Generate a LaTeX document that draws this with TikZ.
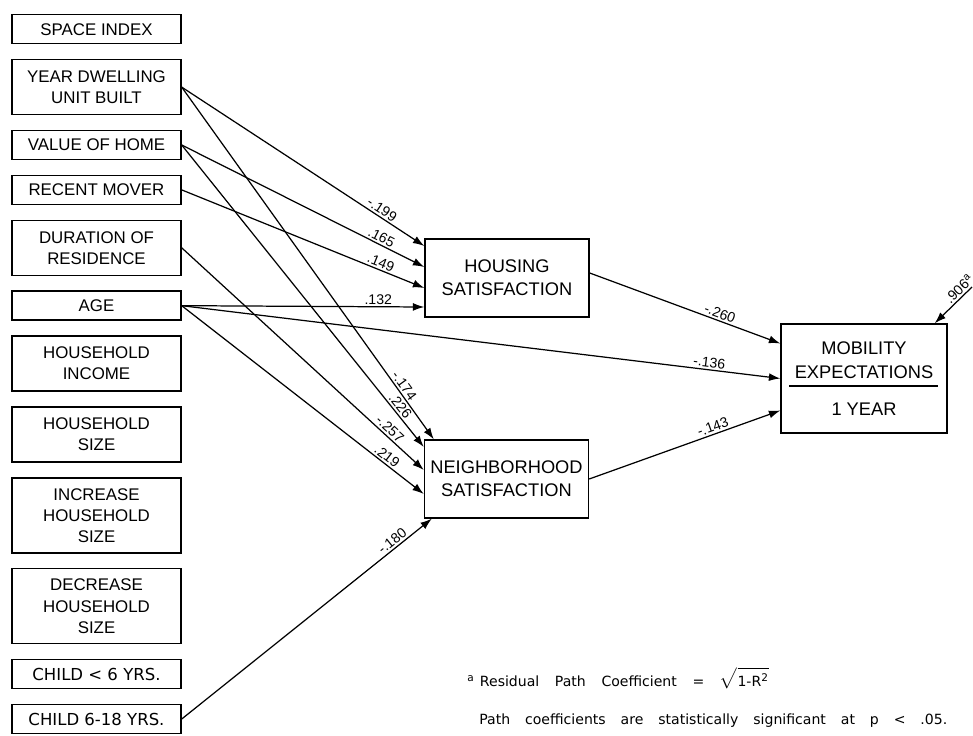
\documentclass[tikz,border=0pt]{standalone}
\usepackage{fontspec}
\setmainfont{Liberation Sans}
\newfontfamily\widefont{DejaVu Sans}
\usetikzlibrary{positioning, arrows.meta, calc}

\begin{document}
\begin{tikzpicture}[
  x=0.02cm, y=-0.02cm,
  var/.style={rectangle, draw, line width=0.8pt, minimum width=3.38cm,
              minimum height=0.58cm, align=center, inner sep=1pt,
              font=\fontsize{9.6}{12}\selectfont},
  sat/.style={rectangle, draw, line width=0.8pt, minimum width=3.28cm,
              minimum height=1.56cm, align=center,
              font=\fontsize{10.4}{13}\selectfont},
  arr/.style={-{Latex[length=6.5pt, width=4.5pt]}, line width=0.7pt},
  lbl/.style={font=\fontsize{8}{9}\selectfont, sloped, above, inner sep=1pt},
  note/.style={anchor=base west, inner sep=0pt, font=\widefont\fontsize{8}{10}\selectfont},
  node distance=0.29cm
]
  \useasboundingbox (0,0) rectangle (973,736);

  \node[var, anchor=north] (space) at (96.5,14) {SPACE INDEX};
  \node[var, minimum height=1.1cm, below=of space] (year) {YEAR DWELLING\\UNIT BUILT};
  \node[var, below=of year]  (value) {VALUE OF HOME};
  \node[var, below=of value] (mover) {RECENT MOVER};
  \node[var, minimum height=1.1cm, below=of mover]  (durat)  {DURATION OF\\RESIDENCE};
  \node[var, below=of durat] (age) {AGE};
  \node[var, minimum height=1.1cm, below=of age]    (income) {HOUSEHOLD\\INCOME};
  \node[var, minimum height=1.1cm, below=of income] (hsize)  {HOUSEHOLD\\SIZE};
  \node[var, minimum height=1.5cm, below=of hsize]  (incr)   {INCREASE\\HOUSEHOLD\\SIZE};
  \node[var, minimum height=1.5cm, below=of incr]   (decr)   {DECREASE\\HOUSEHOLD\\SIZE};
  \node[var, font=\widefont\fontsize{9.4}{12}\selectfont, below=of decr]  (young) {CHILD < 6 YRS.};
  \node[var, font=\widefont\fontsize{9.4}{12}\selectfont, below=of young] (older) {CHILD 6-18 YRS.};

  \node[sat] (hous)  at (507,278)   {HOUSING\\SATISFACTION};
  \node[sat] (neigh) at (506.5,479) {NEIGHBORHOOD\\SATISFACTION};
  \node[sat, minimum width=3.32cm, minimum height=2.18cm,
        font=\fontsize{10.4}{14}\selectfont] (mob) at (864,378.5)
        {MOBILITY\\EXPECTATIONS\\[7pt]1 YEAR};
  \coordinate (cut) at (864,386);
  \draw[line width=0.8pt] ($(mob.west |- cut)+(9,0)$) -- ($(mob.east |- cut)+(-10,0)$);

  \draw[arr] (year.east)  -- node[lbl, pos=0.81] {-.199} ($(hous.west)+(0,-32)$);
  \draw[arr] (value.east) -- node[lbl, pos=0.81] {.165}  ($(hous.west)+(0,-11)$);
  \draw[arr] (mover.east) -- node[lbl, pos=0.81] {.149}  ($(hous.west)+(0,10)$);
  \draw[arr] (age.east)   -- node[lbl, pos=0.81] {.132}  ($(hous.west)+(0,29)$);
  \draw[arr] (year.east)  -- node[lbl, pos=0.86] {-.174} ($(neigh.north west)+(10,0)$);
  \draw[arr] (value.east) -- node[lbl, pos=0.88] {.226}  ($(neigh.west)+(0,-32)$);
  \draw[arr] (durat.east) -- node[lbl, pos=0.84] {-.257} ($(neigh.west)+(0,-9)$);
  \draw[arr] (age.east)   -- node[lbl, pos=0.83] {.219}  ($(neigh.west)+(0,15)$);
  \draw[arr] (older.east) -- node[lbl, pos=0.86] {-.180} ($(neigh.south west)+(8,0)$);
  \draw[arr] (age.east)   -- node[lbl, pos=0.88] {-.136} (mob.west);
  \draw[arr] ($(hous.east)+(0,-5)$) -- node[lbl, pos=0.67] {-.260} ($(mob.west)+(0,-35)$);
  \draw[arr] (neigh.east) -- node[lbl, pos=0.66] {-.143} ($(mob.west)+(0,32)$);
  \coordinate (resid) at (972,287);
  \draw[{Latex[length=6.5pt, width=4.5pt]}-, line width=0.7pt]
    ($(mob.north east)+(-13,0)$) -- node[lbl, pos=0.8] {.906\textsuperscript{a}} (resid);

  \node[note] (resnote) at (467,686)
    {\textsuperscript{a}\hspace{3pt}\makebox[5.78cm][s]{Residual Path Coefficient = $\sqrt{\mbox{1-R\textsuperscript{2}}}$}};
  \node[note] (signote) at (479,724)
    {\makebox[9.36cm][s]{Path coefficients are statistically significant at p < .05.}};
\end{tikzpicture}
\end{document}
